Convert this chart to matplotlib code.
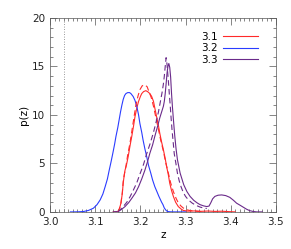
"""
p(z) curves for three redshift solutions, IDL style.
"""

import numpy as np
import matplotlib
matplotlib.use('Agg')
import matplotlib.pyplot as plt
from matplotlib.ticker import MultipleLocator

# 3.2 (blue, solid)
z_32 = [3.045, 3.052, 3.063, 3.074, 3.085, 3.096, 3.104, 3.111, 3.117, 3.122,
        3.127, 3.131, 3.135, 3.139, 3.143, 3.146, 3.150, 3.153, 3.156, 3.159,
        3.162, 3.165, 3.168, 3.172, 3.176, 3.179, 3.184, 3.188, 3.192, 3.196,
        3.199, 3.203, 3.206, 3.210, 3.214, 3.218, 3.223, 3.227, 3.232, 3.237,
        3.241, 3.247, 3.250, 3.253, 3.257, 3.260, 3.266, 3.275, 3.30]
p_32 = [0.0, 0.0, 0.01, 0.04, 0.15, 0.38, 0.75, 1.24, 1.85, 2.6,
        3.4, 4.3, 5.15, 6.05, 7.0, 7.8, 8.7, 9.5, 10.3, 11.0,
        11.6, 12.0, 12.2, 12.3, 12.3, 12.2, 11.9, 11.5, 10.9, 10.0,
        9.1, 8.2, 7.4, 6.5, 5.7, 4.8, 4.0, 3.3, 2.6, 2.05,
        1.6, 1.0, 0.75, 0.4, 0.15, 0.04, 0.01, 0.0, 0.0]

# 3.1 (red, solid)
z_31 = [3.140, 3.151, 3.154, 3.157, 3.160, 3.162, 3.164, 3.166, 3.169, 3.173,
        3.177, 3.181, 3.185, 3.188, 3.192, 3.196, 3.200, 3.203, 3.207, 3.212,
        3.216, 3.221, 3.225, 3.229, 3.232, 3.236, 3.240, 3.243, 3.247, 3.251,
        3.255, 3.258, 3.262, 3.265, 3.269, 3.273, 3.278, 3.284, 3.290, 3.295,
        3.305, 3.320, 3.335, 3.350, 3.365, 3.380, 3.395, 3.41]
p_31 = [0.0, 0.05, 0.4, 0.9, 1.9, 2.96, 3.7, 4.3, 4.8, 5.7,
        6.8, 7.8, 8.9, 9.8, 10.7, 11.4, 11.9, 12.2, 12.4, 12.5,
        12.4, 12.2, 11.9, 11.4, 10.7, 9.8, 8.9, 8.1, 7.2, 6.4,
        5.5, 4.7, 3.8, 2.96, 2.2, 1.6, 1.0, 0.55, 0.3, 0.15,
        0.08, 0.1, 0.06, 0.09, 0.05, 0.07, 0.03, 0.0]

# 3.1 (red, dashed)
z_31d = [3.150, 3.154, 3.157, 3.160, 3.162, 3.165, 3.168, 3.172, 3.177, 3.181,
         3.185, 3.190, 3.195, 3.199, 3.204, 3.210, 3.215, 3.219, 3.224, 3.229,
         3.234, 3.240, 3.245, 3.251, 3.256, 3.262, 3.267, 3.273, 3.279, 3.284,
         3.290, 3.295, 3.303, 3.310, 3.325, 3.34]
p_31d = [0.0, 0.35, 0.93, 2.0, 3.16, 4.0, 4.7, 5.9, 7.1, 8.3,
         9.5, 11.0, 12.0, 12.6, 13.0, 13.1, 12.9, 12.4, 11.8, 10.9,
         9.8, 8.5, 7.4, 6.25, 5.1, 4.0, 3.0, 2.1, 1.4, 0.93,
         0.6, 0.4, 0.22, 0.14, 0.06, 0.0]

# 3.3 (purple, solid)
z_33 = [3.140, 3.151, 3.158, 3.166, 3.174, 3.181, 3.189, 3.196, 3.203, 3.210,
        3.216, 3.221, 3.227, 3.232, 3.238, 3.243, 3.247, 3.251, 3.253, 3.255,
        3.257, 3.259, 3.261, 3.263, 3.265, 3.267, 3.269, 3.271, 3.273, 3.276,
        3.279, 3.282, 3.288, 3.296, 3.303, 3.310, 3.318, 3.325, 3.332, 3.340,
        3.347, 3.352, 3.356, 3.360, 3.365, 3.372, 3.380, 3.389, 3.398, 3.406,
        3.413, 3.421, 3.428, 3.435, 3.442, 3.450, 3.458, 3.47]
p_33 = [0.0, 0.05, 0.25, 0.55, 0.95, 1.4, 1.95, 2.6, 3.4, 4.3,
        5.2, 6.05, 6.9, 7.8, 8.8, 9.7, 10.3, 10.9, 11.4, 12.2,
        13.2, 14.3, 15.0, 15.3, 14.9, 13.9, 12.2, 10.8, 9.6, 7.9,
        6.5, 5.4, 4.0, 2.8, 2.1, 1.6, 1.2, 0.95, 0.75, 0.62,
        0.55, 0.6, 0.95, 1.35, 1.6, 1.72, 1.75, 1.68, 1.5, 1.2,
        0.9, 0.68, 0.48, 0.28, 0.13, 0.04, 0.0, 0.0]

# 3.3 (purple, dashed)
z_33d = [3.150, 3.155, 3.162, 3.170, 3.177, 3.184, 3.192, 3.199, 3.207, 3.214,
         3.222, 3.229, 3.235, 3.240, 3.244, 3.248, 3.251, 3.253, 3.255, 3.257,
         3.259, 3.262, 3.264, 3.266, 3.268, 3.270, 3.273, 3.275, 3.279, 3.282,
         3.286, 3.290, 3.295, 3.300, 3.307, 3.315, 3.323, 3.332, 3.340, 3.347]
p_33d = [0.0, 0.2, 0.55, 1.0, 1.55, 2.2, 3.0, 3.9, 4.9, 6.0,
         7.1, 8.2, 9.3, 10.3, 11.3, 12.3, 13.2, 14.0, 15.0, 15.9,
         15.2, 13.5, 12.2, 11.0, 9.7, 8.5, 7.0, 6.0, 4.9, 4.0,
         3.2, 2.6, 2.0, 1.6, 1.2, 0.9, 0.68, 0.5, 0.4, 0.35]

z_marker = 3.03
labels = ['3.1', '3.2', '3.3']
colors = ['#ff2a2a', '#2a3cff', '#6a2a8a']

plt.rcParams['font.family'] = ['DejaVu Sans']
fig = plt.figure(figsize=(2.91, 2.49), dpi=100)
ax = fig.add_axes([0.172, 0.149, 0.776, 0.779])

ax.plot(z_31, p_31, color=colors[0], lw=0.8, label=labels[0])
ax.plot(z_32, p_32, color=colors[1], lw=0.8, label=labels[1])
ax.plot(z_33, p_33, color=colors[2], lw=0.8, label=labels[2])
ax.plot(z_31d, p_31d, color=colors[0], lw=0.8, ls=(0, (5, 3)))
ax.plot(z_33d, p_33d, color=colors[2], lw=0.8, ls=(0, (5, 3)))
ax.axvline(z_marker, color='#777777', lw=0.6, ls=(0, (1, 2)))

ax.set_xlim(3.0, 3.5)
ax.set_ylim(0, 20)
ax.xaxis.set_major_locator(MultipleLocator(0.1))
ax.xaxis.set_minor_locator(MultipleLocator(0.01))
ax.yaxis.set_major_locator(MultipleLocator(5))
ax.yaxis.set_minor_locator(MultipleLocator(1))
ax.tick_params(which='both', direction='in', top=True, right=True,
               width=0.5, colors='#555555', labelcolor='#222222', labelsize=7.5)
ax.tick_params(which='major', length=5)
ax.tick_params(which='minor', length=2.5)
for s in ax.spines.values():
    s.set_linewidth(0.5)
    s.set_color('#555555')

ax.set_xlabel('z', fontsize=7.5, labelpad=2)
ax.set_ylabel('p(z)', fontsize=7.5, labelpad=2)

leg = ax.legend(loc='upper right', markerfirst=False, frameon=False,
                fontsize=7.5, handlelength=3.4, handletextpad=0.5,
                labelspacing=0.12, borderaxespad=0.3,
                bbox_to_anchor=(0.955, 0.965))

fig.savefig('out.png', dpi=100)
